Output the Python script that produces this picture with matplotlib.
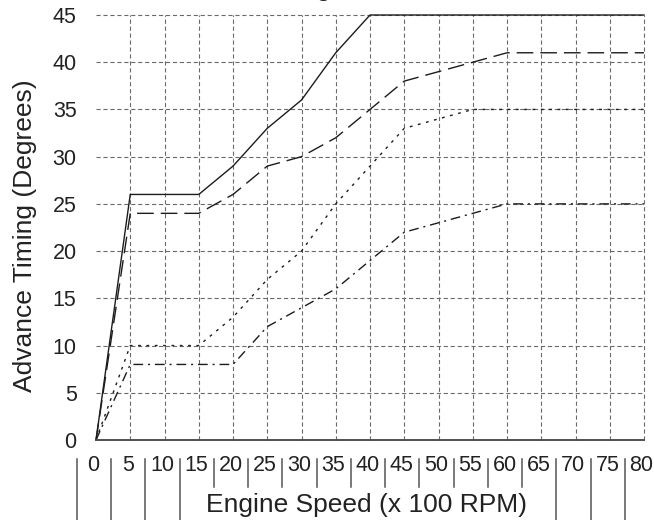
import matplotlib
matplotlib.use("Agg")
import matplotlib.pyplot as plt
import matplotlib.transforms as mtrans

plt.rcParams["font.family"] = ["Liberation Sans", "DejaVu Sans"]
plt.rcParams["lines.scale_dashes"] = False

# data (engine speed in x100 rpm, advance in degrees)
rpm_solid = [0, 5, 15, 20, 25, 30, 35, 40, 80]
adv_solid = [0, 26, 26, 29, 33, 36, 41, 45, 45]

rpm_long = [0, 5, 15, 20, 25, 30, 35, 40, 45, 50, 55, 60, 80]
adv_long = [0, 24, 24, 26, 29, 30, 32, 35, 38, 39, 40, 41, 41]

rpm_dot = [0, 5, 15, 20, 25, 30, 35, 40, 45, 50, 55, 80]
adv_dot = [0, 10, 10, 13, 17, 20, 25, 29, 33, 34, 35, 35]

rpm_dashdot = [0, 5, 15, 20, 25, 30, 35, 40, 45, 50, 55, 60, 80]
adv_dashdot = [0, 8, 8, 8, 12, 14, 16, 19, 22, 23, 24, 25, 25]

x_ticks = list(range(0, 85, 5))
y_ticks = list(range(0, 50, 5))
long_separators = [0, 1, 2, 3, 14, 15, 16]  # separators that run to the bottom edge

LINE_COL = "#1c1c1c"
GRID_COL = "#6a6a6a"

fig = plt.figure(figsize=(6.54, 5.20), dpi=100)
ax = fig.add_axes([96 / 654, 1 - 440 / 520, (644 - 96) / 654, (440 - 15) / 520])

ax.set_xlim(0, 80)
ax.set_ylim(0, 45)

# dashed grid, drawn by hand so x=0 gets no vertical line
for x in x_ticks[1:]:
    ax.plot([x, x], [0, 45], color=GRID_COL, lw=0.8, dashes=(3, 2), zorder=1, clip_on=False)
for y in y_ticks[1:]:
    ax.plot([0, 80], [y, y], color=GRID_COL, lw=0.8, dashes=(3, 2), zorder=1, clip_on=False)

ax.plot(rpm_solid, adv_solid, color=LINE_COL, lw=1.0, zorder=3, clip_on=False)
ax.plot(rpm_long, adv_long, color=LINE_COL, lw=1.0, dashes=(12, 5), zorder=3, clip_on=False)
ax.plot(rpm_dot, adv_dot, color=LINE_COL, lw=1.0, dashes=(2, 4), zorder=3, clip_on=False)
ax.plot(rpm_dashdot, adv_dashdot, color=LINE_COL, lw=1.0, dashes=(7, 3.5, 1.5, 3.5),
        zorder=3, clip_on=False)

for s in ["top", "right", "left"]:
    ax.spines[s].set_visible(False)
ax.spines["bottom"].set_color("#505050")
ax.spines["bottom"].set_linewidth(1.4)
ax.spines["bottom"].set_zorder(4)

ax.set_yticks(y_ticks)
ax.set_yticklabels([str(v) for v in y_ticks], fontsize=15.5, color="#222222")
ax.tick_params(axis="y", length=0, pad=14)
ax.set_xticks([])

# x labels sit in little boxes, like a table row
trans = mtrans.blended_transform_factory(ax.transData, fig.transFigure)
for i, x in enumerate(x_ticks):
    ax.text(x - 0.35, 1 - 465.5 / 520, str(x), transform=trans, ha="center", va="center",
            fontsize=15.5, color="#222222", clip_on=False)
    y_bot = 0.0 if i in long_separators else 1 - 487 / 520
    ax.plot([x - 2.8, x - 2.8], [1 - 459 / 520, y_bot], transform=trans,
            color="#555555", lw=1.1, clip_on=False)

fig.text(366.5 / 654, 1 - 512 / 520, "Engine Speed (x 100 RPM)", ha="center", va="baseline",
         fontsize=19, color="#222222")
fig.text(25 / 654, 1 - 236 / 520, "Advance Timing (Degrees)", rotation=90, ha="center",
         va="center", fontsize=19, color="#222222")

# title is cut off at the top in the original, only the tail of the "g" shows
fig.text(331 / 654, 1 + 4 / 520, "Advance Timing", ha="right", va="baseline",
         fontsize=19, color="#222222")

fig.savefig("out.png", dpi=100)
